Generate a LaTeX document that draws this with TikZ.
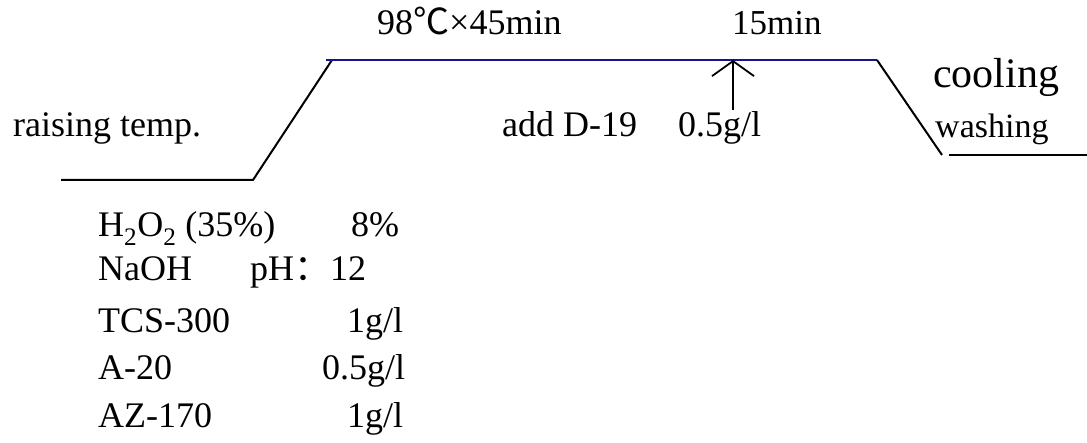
\documentclass[tikz,border=0pt]{standalone}
\usepackage{fontspec}
\setmainfont{Liberation Serif}
\newfontfamily\cjk{Noto Sans CJK SC}
\usetikzlibrary{arrows.meta}
\definecolor{tempblue}{RGB}{20,20,140}
\tikzset{
  lbl/.style={anchor=base west, inner sep=0pt, font=\fontsize{36}{43}\selectfont},
  curve/.style={line width=2pt, black},
  hold/.style={line width=2pt, tempblue},
  addarrow/.style={line width=1.8pt, -{Straight Barb[length=15pt,width=42pt,line width=1.8pt]}}
}
\begin{document}
\begin{tikzpicture}[x=1pt,y=-1pt]
\useasboundingbox (0,0) rectangle (1087,443);
% vertices
\coordinate (s0) at (61,180);
\coordinate (s1) at (253,180);
\coordinate (s2) at (332,60);
\coordinate (h0) at (326,60);
\coordinate (h1) at (877,60);
\coordinate (c1) at (942,155);
\coordinate (w0) at (949,155);
\coordinate (w1) at (1087,155);
\coordinate (a0) at (733,110);
\coordinate (a1) at (733,60);
% profile
\draw[curve] (s0) -- (s1) -- (s2);
\draw[hold] (h0) -- (h1);
\draw[curve] (h1) -- (c1);
\draw[curve] (w0) -- (w1);
\draw[addarrow] (a0) -- (a1);
% labels
\node[lbl] (t1) at (13,137) {raising temp.};
\node[lbl] (t2) at (377,35) {98{\cjk ℃}×45min};
\node[lbl, font=\fontsize{35}{42}\selectfont] (t3) at (732,35) {15min};
\node[lbl] (t4) at (502,137) {add D-19};
\node[lbl] (t5) at (678,137) {0.5g/l};
\node[lbl, font=\fontsize{42}{50}\selectfont] (t6) at (933,88) {cooling};
\node[lbl, font=\fontsize{34}{41}\selectfont] (t7) at (935,138) {washing};
% recipe
\node[lbl] (r1) at (98,237) {H\textsubscript{2}O\textsubscript{2} (35\%)};
\node[lbl] (v1) at (351,237) {8\%};
\node[lbl] (r2) at (98,281) {NaOH};
\node[lbl] (v2) at (250,281) {pH{\cjk ：}12};
\node[lbl] (r3) at (98,333) {TCS-300};
\node[lbl] (v3) at (347,333) {1g/l};
\node[lbl] (r4) at (98,380) {A-20};
\node[lbl] (v4) at (322,380) {0.5g/l};
\node[lbl] (r5) at (98,428) {AZ-170};
\node[lbl] (v5) at (347,428) {1g/l};
\end{tikzpicture}
\end{document}
